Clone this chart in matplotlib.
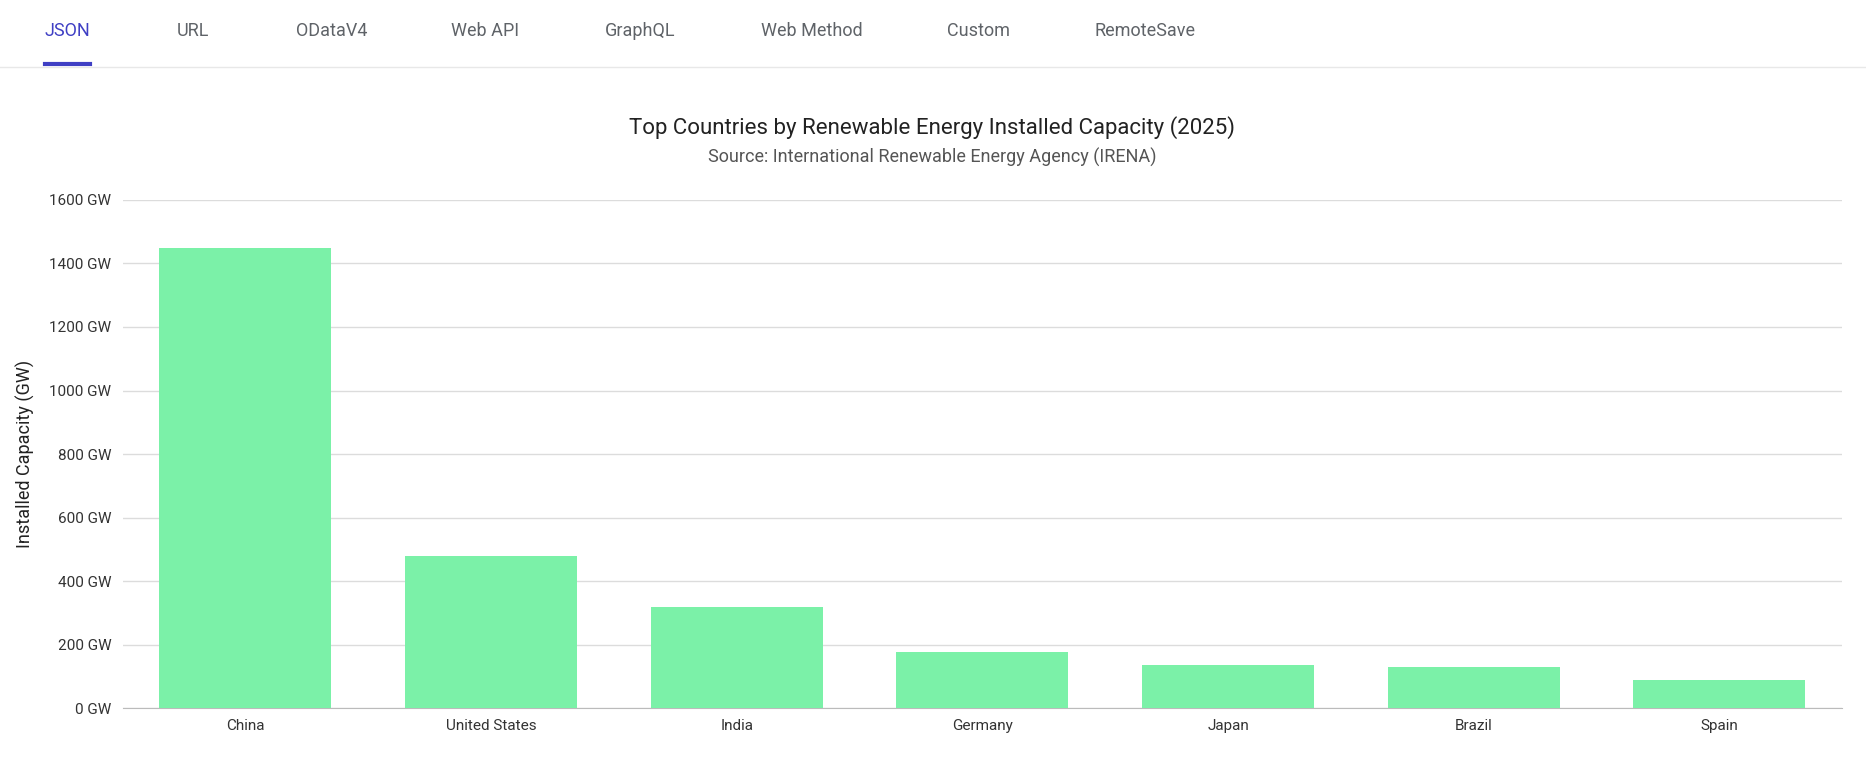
import matplotlib.pyplot as plt
from matplotlib.ticker import FuncFormatter

countries = ["China", "United States", "India", "Germany", "Japan", "Brazil", "Spain"]
capacity_gw = [1450, 478, 317, 177, 136, 130, 90]
tabs = ["JSON", "URL", "ODataV4", "Web API", "GraphQL", "Web Method", "Custom", "RemoteSave"]
tab_x = [57, 162, 279, 408, 538, 682, 822, 962]  # centers in 1568-wide layout

W, H = 1568, 647
fig = plt.figure(figsize=(18.66, 7.7), dpi=100)
plt.rcParams['font.family'] = ['Roboto', 'DejaVu Sans']

# tab bar
for name, x in zip(tabs, tab_x):
    fig.text(x / W, 1 - 26 / H, name, ha="center", va="center", fontsize=13,
             color="#3f3fc4" if name == "JSON" else "#5f6368")
fig.add_artist(plt.Line2D([38 / W, 76 / W], [1 - 54 / H] * 2, color="#3f3fc4", lw=3))
fig.add_artist(plt.Line2D([0, 1], [1 - 56 / H] * 2, color="#e8e8e8", lw=1))

ax = fig.add_axes([103 / W, 1 - 595 / H, (1548 - 103) / W, (595 - 168) / H])
ax.bar(range(len(countries)), capacity_gw, width=0.7, color="#7bf1a8", zorder=3)
ax.set_xlim(-0.5, len(countries) - 0.5)
ax.set_ylim(0, 1600)
ax.set_yticks(range(0, 1601, 200))
ax.yaxis.set_major_formatter(FuncFormatter(lambda v, p: f"{int(v)} GW"))
ax.set_xticks(range(len(countries)))
ax.set_xticklabels(countries)
ax.tick_params(axis="both", length=0, labelsize=11, colors="#333333", pad=8)
ax.grid(axis="y", color="#dcdcdc", lw=1, zorder=0)
for s in ["top", "right", "left"]:
    ax.spines[s].set_visible(False)
ax.spines["bottom"].set_color("#bbbbbb")
ax.set_ylabel("Installed Capacity (GW)", fontsize=13, color="#222222", labelpad=10)

fig.text(783 / W, 1 - 107 / H, "Top Countries by Renewable Energy Installed Capacity (2025)",
         ha="center", va="center", fontsize=16, color="#222222")
fig.text(783 / W, 1 - 132 / H, "Source: International Renewable Energy Agency (IRENA)",
         ha="center", va="center", fontsize=13, color="#555555")

fig.savefig("out.png", dpi=100)
